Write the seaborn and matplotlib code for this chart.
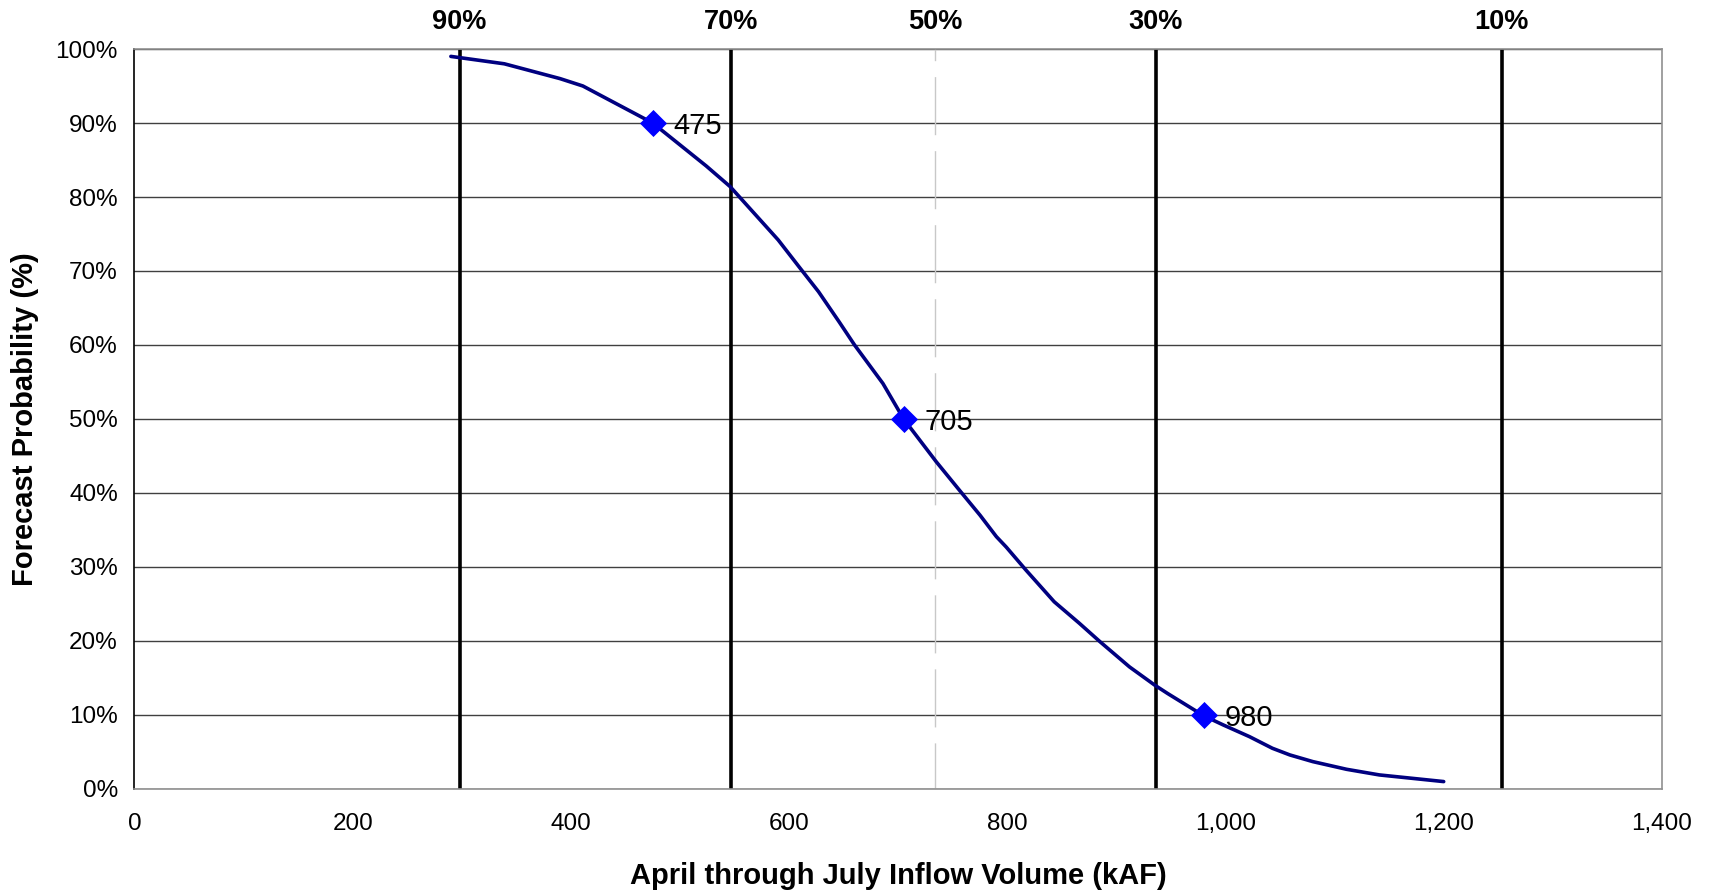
import numpy as np
import pandas as pd
import seaborn as sns
import matplotlib.pyplot as plt
from matplotlib.ticker import FuncFormatter, MultipleLocator
import matplotlib.transforms as mtransforms

# exceedance curve
volume = [290, 339, 390, 411, 475, 524, 546, 590, 610, 627, 646, 660, 686, 705,
          735, 756, 775, 790, 799, 817, 843, 866, 885, 912, 935, 947, 980, 998,
          1022, 1043, 1059, 1080, 1111, 1141, 1200]
probability = [99, 98, 96, 95, 90, 84.2, 81.4, 74.2, 70.4, 67.2, 63.1, 60, 54.8, 50,
               44.2, 40.4, 37, 34.1, 32.7, 29.6, 25.3, 22.4, 19.9, 16.5, 14.05, 12.9, 9.9, 8.65,
               7.07, 5.5, 4.6, 3.7, 2.66, 1.9, 1.0]

# highlighted forecast points
key_volume = [475, 705, 980]
key_prob = [90, 50, 10]

# quantile marker lines
quant_labels = ["90%", "70%", "50%", "30%", "10%"]
quant_volume = [298, 547, 734, 936, 1253]

sns.set_theme(style="white")
plt.rcParams['font.family'] = ['Liberation Sans', 'DejaVu Sans']
plt.rcParams['text.color'] = 'black'
plt.rcParams['axes.labelcolor'] = 'black'
plt.rcParams['xtick.color'] = 'black'
plt.rcParams['ytick.color'] = 'black'

fig = plt.figure(figsize=(17.11, 8.91), dpi=100)
ax = fig.add_axes([0.0786, 0.1145, 0.8927, 0.8305])

curve = pd.DataFrame({"volume": volume, "prob": probability})
keys = pd.DataFrame({"volume": key_volume, "prob": key_prob})

ax.set_xlim(0, 1400)
ax.set_ylim(0, 100)
ax.yaxis.set_major_locator(MultipleLocator(10))
ax.xaxis.set_major_locator(MultipleLocator(200))
ax.grid(axis="y", color="#404040", linewidth=1.0, zorder=0)
ax.set_axisbelow(True)

trans = mtransforms.blended_transform_factory(ax.transData, ax.transAxes)
for lab, xv in zip(quant_labels, quant_volume):
    if lab == "50%":
        ax.axvline(xv, color="#c8c8c8", linewidth=1.0,
                   linestyle=(8.6, (41.8, 11.5)), zorder=1)
    else:
        ax.axvline(xv, color="black", linewidth=2.6, zorder=2)
    ax.text(xv, 1.037, lab, transform=trans, ha="center", va="center",
            fontsize=19.5, fontweight="bold")

sns.lineplot(data=curve, x="volume", y="prob", ax=ax, color="#000080",
             linewidth=2.6, zorder=3)
sns.scatterplot(data=keys, x="volume", y="prob", ax=ax, marker="D", s=190,
                color="#0000ff", edgecolor="#0000ff", linewidth=0, zorder=4)
for xv, yv in zip(key_volume, key_prob):
    ax.annotate(f"{xv}", (xv, yv), xytext=(15, 0), textcoords="offset points",
                ha="left", va="center_baseline", fontsize=21, zorder=5)

ax.yaxis.set_major_formatter(FuncFormatter(lambda v, p: f"{v:.0f}%"))
ax.xaxis.set_major_formatter(FuncFormatter(lambda v, p: f"{v:,.0f}"))
ax.tick_params(axis="both", labelsize=17.5, length=5, width=1, direction="out",
               color="#808080", labelcolor="black")
ax.tick_params(axis="y", pad=7, color="black")
ax.tick_params(axis="x", pad=12)

for side in ["top", "right", "bottom"]:
    ax.spines[side].set_color("#909090")
    ax.spines[side].set_linewidth(1.2)
ax.spines["left"].set_color("black")
ax.spines["left"].set_linewidth(1.2)

ax.set_xlabel("April through July Inflow Volume (kAF)", fontsize=21,
              fontweight="bold", labelpad=20)
ax.set_ylabel("Forecast Probability (%)", fontsize=21, fontweight="bold",
              labelpad=12)

fig.savefig("out.png", dpi=100)
